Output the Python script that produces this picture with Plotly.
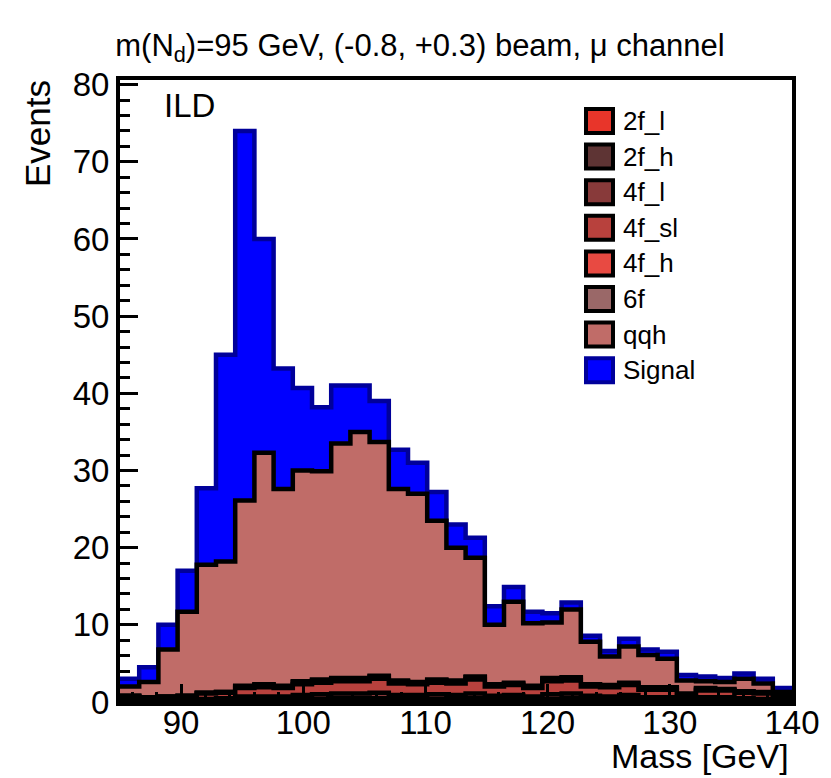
import numpy as np
import plotly.graph_objects as go

# ---------------- data (events per bin, 35 bins from 85 to 140 GeV) ----------------
bin_lo, bin_hi, nbins = 85.0, 140.0, 35

f2_l = [0, 0, 0, 0, 0.1, 0.1, 0.1, 0.1, 0.1, 0.2, 0.2, 0.2, 0.2, 0.2, 0.2, 0.2, 0.2, 0.2,
        0.2, 0.2, 0.2, 0.1, 0.2, 0.2, 0.2, 0.1, 0.2, 0.1, 0.1, 0.1, 0.1, 0.1, 0.1, 0.1, 0.1]
f2_h = [0.1, 0.1, 0.1, 0.1, 0.1, 0.1, 0.2, 0.2, 0.2, 0.2, 0.2, 0.3, 0.3, 0.3, 0.2, 0.2, 0.2, 0.2,
        0.3, 0.2, 0.2, 0.2, 0.2, 0.3, 0.2, 0.2, 0.2, 0.2, 0.1, 0.1, 0.2, 0.2, 0.1, 0.1, 0.1]
f4_l = [0.2, 0.1, 0.1, 0.2, 0.2, 0.3, 0.4, 0.4, 0.4, 0.5, 0.6, 0.6, 0.6, 0.7, 0.5, 0.5, 0.6, 0.5,
        0.6, 0.4, 0.5, 0.4, 0.6, 0.6, 0.4, 0.4, 0.5, 0.3, 0.4, 0.2, 0.3, 0.3, 0.3, 0.2, 0.2]
f4_sl = [0.4, 0.3, 0.4, 0.4, 0.7, 0.7, 1.1, 1.2, 1.1, 1.4, 1.5, 1.6, 1.6, 1.8, 1.5, 1.4, 1.5, 1.5,
         1.8, 1.2, 1.3, 1.1, 1.7, 1.7, 1.2, 1.2, 1.3, 1.0, 1.0, 0.5, 0.9, 0.9, 0.7, 0.7, 0.5]
f4_h = [0.1, 0.1, 0.1, 0.1, 0.1, 0.1, 0.2, 0.3, 0.2, 0.3, 0.3, 0.3, 0.3, 0.3, 0.3, 0.2, 0.3, 0.3,
        0.3, 0.2, 0.2, 0.2, 0.3, 0.3, 0.2, 0.2, 0.2, 0.2, 0.2, 0.1, 0.2, 0.1, 0.1, 0.1, 0.1]
f6 = [0, 0, 0, 0, 0, 0, 0.1, 0.1, 0.1, 0.1, 0.1, 0.1, 0.1, 0.1, 0.1, 0.1, 0.1, 0.1,
      0.1, 0.1, 0.1, 0.1, 0.1, 0.1, 0.1, 0.1, 0.1, 0.1, 0.1, 0.1, 0.1, 0.1, 0.1, 0.1, 0]
qqh = [1.2, 2.0, 6.1, 10.9, 16.6, 16.9, 24.0, 30.0, 25.5, 27.3, 27.0, 30.4, 31.9, 30.3, 24.8, 24.4,
       20.6, 17.2, 15.4, 7.7, 10.5, 8.1, 7.2, 8.8, 5.5, 3.7, 4.7, 4.2, 3.7, 1.7, 0.9, 0.9, 1.6, 1.1, 0.3]
signal = [1.0, 1.9, 3.2, 5.3, 9.9, 26.8, 47.9, 27.7, 15.6, 10.7, 8.3, 7.5, 6.0, 5.3, 5.1, 4.0,
          3.7, 3.0, 2.6, 2.4, 1.9, 1.5, 1.2, 0.9, 0.8, 0.7, 1.0, 0.7, 0.9, 0.7, 0.6, 0.5, 0.7, 0.6, 0.5]

names = ["2f_l", "2f_h", "4f_l", "4f_sl", "4f_h", "6f", "qqh", "Signal"]
series = [f2_l, f2_h, f4_l, f4_sl, f4_h, f6, qqh, signal]
fills = ["#e8352a", "#5e3434", "#883a3a", "#b8413d", "#e84a42", "#9a6868", "#c06c68", "#0000ff"]
edgecols = ["black"] * 7 + ["#00009a"]

edges = np.linspace(bin_lo, bin_hi, nbins + 1)
cum = np.cumsum(np.array(series, dtype=float), axis=0)

fig = go.Figure()
# draw from the top of the stack downwards (ROOT THStack style)
for i in reversed(range(len(series))):
    y = list(cum[i]) + [cum[i][-1]]
    fig.add_trace(go.Scatter(
        x=edges, y=y, mode="lines", line=dict(shape="hv", color=edgecols[i], width=4.5),
        fill="tozeroy", fillcolor=fills[i], name=names[i], showlegend=False,
        hoverinfo="skip"))

# ---------------- layout ----------------
OFF = 8  # default page body margin
W, H = 831 - OFF, 778 - OFF
# target plot frame in screen pixels
SX0, SX1, SY0, SY1 = 120, 792, 80, 702
L, T = SX0 - OFF, SY0 - OFF
R, B = W - (SX1 - OFF), H - (SY1 - OFF)
pw, ph = SX1 - SX0, SY1 - SY0


def px(xs):
    return (xs - SX0) / pw


def py(ys):
    return 1 - (ys - SY0) / ph


FONT = "Liberation Sans, Arial, Helvetica, sans-serif"
axis_common = dict(
    ticks="inside", ticklen=18, tickwidth=3, tickcolor="black",
    showline=True, linewidth=4, linecolor="black", mirror=True,
    showgrid=False, zeroline=False,
    tickfont=dict(family=FONT, size=33, color="black"),
    minor=dict(dtick=2, ticks="inside", ticklen=10, tickwidth=3, tickcolor="black", showgrid=False),
    layer="above traces",
)

fig.update_layout(
    width=W, height=H,
    margin=dict(l=L, r=R, t=T, b=B, autoexpand=False),
    paper_bgcolor="white", plot_bgcolor="white",
    showlegend=False,
    title=dict(text="m(N<sub>d</sub>)=95 GeV, (-0.8, +0.3) beam, \u03bc channel",
               x=(420 - OFF) / W, xanchor="center", y=1 - (45 - OFF) / H, yanchor="middle",
               font=dict(family=FONT, size=31, color="black")),
    xaxis=dict(range=[bin_lo, bin_hi], tick0=90, dtick=10, ticklabelstandoff=-12, **axis_common),
    yaxis=dict(range=[0, 80.6], tick0=0, dtick=10, **axis_common),
)

ann = [
    dict(text="ILD", x=px(162), y=py(105), xanchor="left", yanchor="middle",
         font=dict(size=33)),
    dict(text="Events", x=px(37), y=py(134), xanchor="center", yanchor="middle",
         textangle=-90, font=dict(size=35)),
    dict(text="Mass [GeV]", x=px(791), y=py(756), xanchor="right", yanchor="middle",
         font=dict(size=34)),
]
shapes = []
y0 = 121
step = 35.6
for k, nm in enumerate(names):
    yc = y0 + k * step
    shapes.append(dict(type="rect", xref="paper", yref="paper",
                       x0=px(586), x1=px(613), y0=py(yc + 12), y1=py(yc - 12),
                       fillcolor=fills[k], line=dict(color=edgecols[k], width=4), layer="above"))
    ann.append(dict(text=nm, x=px(621), y=py(yc), xanchor="left", yanchor="middle",
                    font=dict(size=26)))

for a in ann:
    a.update(xref="paper", yref="paper", showarrow=False)
    a["font"].update(family=FONT, color="black")

fig.update_layout(annotations=ann, shapes=shapes)
fig.write_html("out.html")
